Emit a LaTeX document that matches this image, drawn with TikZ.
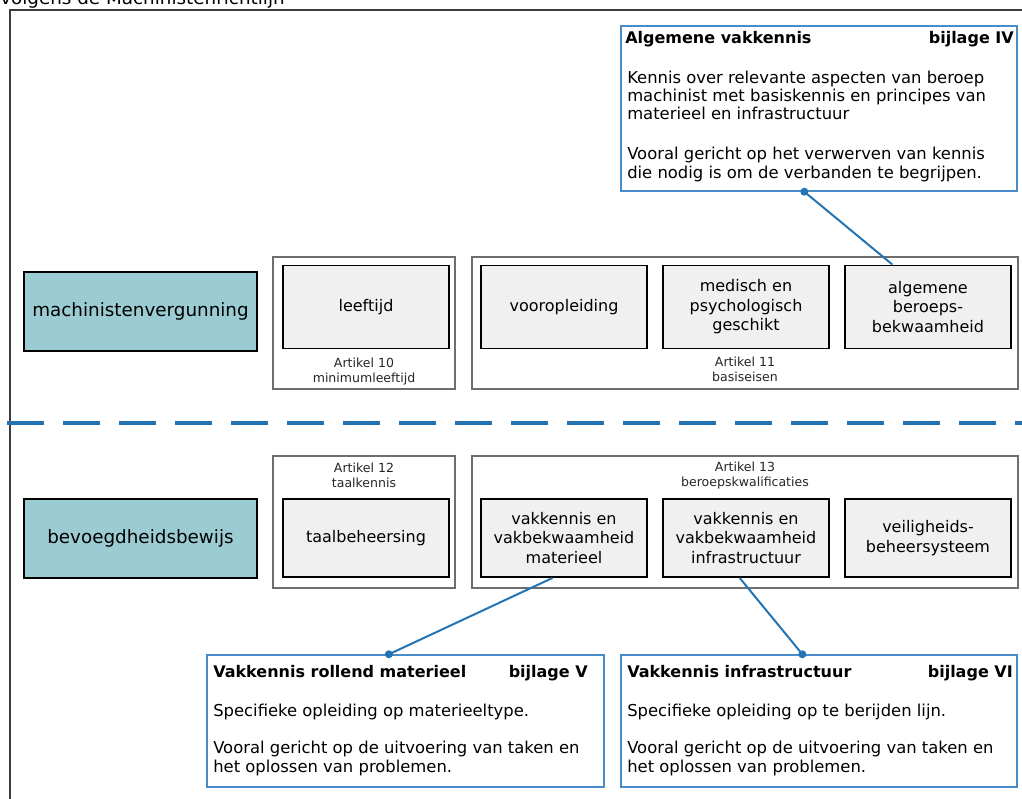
\documentclass[tikz,border=0pt]{standalone}
\usepackage{fontspec}
\setmainfont{DejaVu Sans}
\definecolor{doelkleur}{RGB}{155,204,211}
\definecolor{eiskleur}{RGB}{240,240,240}
\definecolor{lijnblauw}{RGB}{36,116,180}
\definecolor{kaderblauw}{RGB}{70,140,200}
\definecolor{groepgrijs}{RGB}{110,110,110}
\definecolor{randgrijs}{RGB}{60,60,60}
\tikzset{
  doel/.style={draw=black, line width=1.8pt, fill=doelkleur, inner sep=0pt,
    minimum width=174.75pt, minimum height=59.25pt, font=\fontsize{13.75}{16}\selectfont},
  eis/.style={draw=black, line width=1.4pt, fill=eiskleur, inner sep=0pt, align=center,
    minimum width=124.5pt, font=\fontsize{12}{14.6}\selectfont},
  artikel/.style={draw=groepgrijs, line width=0.9pt, inner sep=0pt, minimum height=99pt},
  artlabel/.style={align=center, inner sep=0pt, text=black!85, font=\fontsize{9.4}{11.25}\selectfont},
  bijlage/.style={draw=kaderblauw, line width=1.1pt, inner sep=0pt, minimum width=297pt},
  kop/.style={inner sep=0pt, font=\fontsize{12}{13.5}\bfseries\selectfont},
  tekst/.style={inner sep=0pt, align=left, anchor=base west, font=\fontsize{12.3}{13.8}\selectfont},
  verbinding/.style={draw=lijnblauw, line width=1.5pt},
  scheiding/.style={draw=lijnblauw, line width=2.3pt, dash pattern=on 27.75pt off 14.25pt}
}
\begin{document}
\begin{tikzpicture}[x=0.75pt,y=-0.75pt]
  \useasboundingbox (0,0) rectangle (1022,799);
  \node [anchor=base west, inner sep=0pt, font=\fontsize{13.75}{16}\selectfont] (titel) at (0,5) {volgens de Machinistenrichtlijn};
  \draw [randgrijs, line width=1.5pt] (10,815)--(10,10)--(1035,10);

  % machinistenvergunning
  \node [doel] (mv) at (140.5,311.5) {machinistenvergunning};
  \node [artikel, minimum width=136.5pt] (art10) at (364,323) {};
  \node [artikel, minimum width=409.5pt] (art11) at (745,323) {};
  \node [eis, minimum height=62.25pt] (leeftijd) at (366,307) {leeftijd};
  \node [eis, minimum height=62.25pt] (vooropl) at (564,307) {vooropleiding};
  \node [eis, minimum height=62.25pt] (medisch) at (746,307) {medisch en\\psychologisch\\geschikt};
  \node [eis, minimum height=62.25pt] (algemeen) at (928,307) {algemene\\beroeps-\\bekwaamheid};
  \node [artlabel] (lab10) at (364,371.5) {Artikel 10\\minimumleeftijd};
  \node [artlabel] (lab11) at (745,369.5) {Artikel 11\\basiseisen};

  \draw [scheiding] (7,423)--(1022,423);

  % bevoegdheidsbewijs
  \node [doel] (bb) at (140.5,538.5) {bevoegdheidsbewijs};
  \node [artikel, minimum width=136.5pt] (art12) at (364,522) {};
  \node [artikel, minimum width=409.5pt] (art13) at (745,522) {};
  \node [eis, minimum height=58.5pt] (taal) at (366,538) {taalbeheersing};
  \node [eis, minimum height=58.5pt] (vakmat) at (564,538) {vakkennis en\\vakbekwaamheid\\materieel};
  \node [eis, minimum height=58.5pt] (vakinfra) at (746,538) {vakkennis en\\vakbekwaamheid\\infrastructuur};
  \node [eis, minimum height=58.5pt] (veilig) at (928,538) {veiligheids-\\beheersysteem};
  \node [artlabel] (lab12) at (364,475.5) {Artikel 12\\taalkennis};
  \node [artlabel] (lab13) at (745,475.5) {Artikel 13\\beroepskwalificaties};

  % bijlagen
  \node [bijlage, minimum height=123.75pt] (bijIV) at (819,108.5) {};
  \node [kop, anchor=base west] (kopIV) at (625,44) {Algemene vakkennis};
  \node [kop, anchor=base east] (nrIV) at (1014,44) {bijlage IV};
  \node [tekst] (tIVa) at (627,120) {Kennis over relevante aspecten van beroep\\machinist met basiskennis en principes van\\materieel en infrastructuur};
  \node [tekst] (tIVb) at (627,178) {Vooral gericht op het verwerven van kennis\\die nodig is om de verbanden te begrijpen.};

  \node [bijlage, minimum width=297.75pt, minimum height=99pt] (bijV) at (405.5,721) {};
  \node [kop, anchor=base west] (kopV) at (213,677) {Vakkennis rollend materieel};
  \node [kop, anchor=base east] (nrV) at (588,677) {bijlage V};
  \node [tekst] (tVa) at (213,716) {Specifieke opleiding op materieeltype.};
  \node [tekst] (tVb) at (213,772) {Vooral gericht op de uitvoering van taken en\\het oplossen van problemen.};

  \node [bijlage, minimum height=99pt] (bijVI) at (819,721) {};
  \node [kop, anchor=base west] (kopVI) at (627,677) {Vakkennis infrastructuur};
  \node [kop, anchor=base east] (nrVI) at (1013,677) {bijlage VI};
  \node [tekst] (tVIa) at (627,716) {Specifieke opleiding op te berijden lijn.};
  \node [tekst] (tVIb) at (627,772) {Vooral gericht op de uitvoering van taken en\\het oplossen van problemen.};

  % verbindingen
  \draw [verbinding] (algemeen.130)--(bijIV.260);
  \fill [lijnblauw] (bijIV.260) circle (3pt);
  \draw [verbinding] (vakmat.254)--(bijV.104);
  \fill [lijnblauw] (bijV.104) circle (3pt);
  \draw [verbinding] (vakinfra.261)--(bijVI.104);
  \fill [lijnblauw] (bijVI.104) circle (3pt);
\end{tikzpicture}
\end{document}
